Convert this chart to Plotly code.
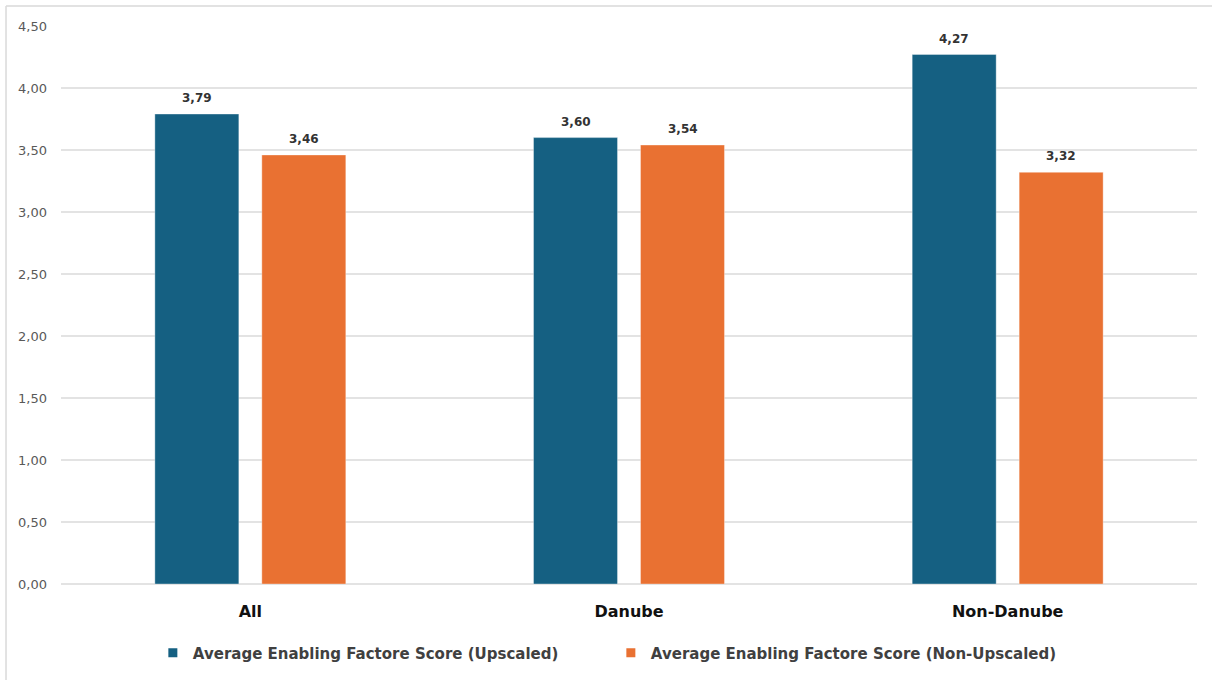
import plotly.graph_objects as go

categories = ["All", "Danube", "Non-Danube"]
upscaled = [3.79, 3.60, 4.27]
non_upscaled = [3.46, 3.54, 3.32]
series_names = [
    "Average Enabling Factore Score (Upscaled)",
    "Average Enabling Factore Score (Non-Upscaled)",
]
tick_values = [0, 0.5, 1.0, 1.5, 2.0, 2.5, 3.0, 3.5, 4.0, 4.5]

BLUE = "#156082"
ORANGE = "#E97132"

fig = go.Figure()
for name, vals, color in [
    (series_names[0], upscaled, BLUE),
    (series_names[1], non_upscaled, ORANGE),
]:
    fig.add_trace(go.Bar(
        x=categories, y=vals, name=name, showlegend=False, legendgroup=name,
        marker=dict(color=color, line=dict(color="rgba(255,255,255,0.35)", width=1)),
    ))

# small square legend keys
for name, color in [(series_names[0], BLUE), (series_names[1], ORANGE)]:
    fig.add_trace(go.Scatter(
        x=[None], y=[None], mode="markers", name=name, legendgroup=name,
        marker=dict(symbol="square", size=9, color=color),
    ))

# value labels above each bar
for shift, vals in [(-53.5, upscaled), (53.5, non_upscaled)]:
    for c, v in zip(categories, vals):
        fig.add_annotation(
            x=c, y=v, xref="x", yref="y", xshift=shift, yshift=7,
            yanchor="bottom", showarrow=False,
            text=f"{v:.2f}".replace(".", ","),
            font=dict(family="DejaVu Sans", size=12, color="#333333", weight="bold"),
        )

# thin frame lines at the top and left edges
fig.add_shape(type="line", xref="paper", yref="paper",
              x0=-0.0484, x1=1.02, y0=1.0358, y1=1.0358,
              line=dict(color="#d9d9d9", width=1.5))
fig.add_shape(type="line", xref="paper", yref="paper",
              x0=-0.0484, x1=-0.0484, y0=1.0358, y1=-0.3,
              line=dict(color="#d9d9d9", width=1.5))

fig.update_layout(
    width=1212, height=680,
    margin=dict(l=61, r=15, t=26, b=96, autoexpand=False),
    paper_bgcolor="white", plot_bgcolor="white",
    barmode="group", bargap=0.435, bargroupgap=0.215,
    separators=",.",
    showlegend=True,
    legend=dict(
        orientation="h", x=98 / 1212, xanchor="left",
        yref="container", y=(680 - 653) / 680, yanchor="middle",
        font=dict(family="DejaVu Sans", size=15, color="#404040", weight="bold"),
        itemwidth=30, traceorder="normal", entrywidth=413, entrywidthmode="pixels",
    ),
    font=dict(family="DejaVu Sans"),
)
fig.update_xaxes(
    showgrid=False, showline=False, ticks="", automargin=False,
    ticklabelstandoff=16,
    tickfont=dict(family="DejaVu Sans", size=16, color="#111111", weight="bold"),
    fixedrange=True,
)
fig.update_yaxes(
    range=[0, 4.5], tickvals=tick_values, tickformat=".2f", automargin=False,
    showgrid=True, gridcolor="#e3e3e3", gridwidth=1.5,
    zeroline=True, zerolinecolor="#e3e3e3", zerolinewidth=1.5,
    showline=False, ticks="", ticklabelstandoff=13,
    tickfont=dict(family="DejaVu Sans", size=13, color="#595959"),
    fixedrange=True,
)

fig.write_html("out.html")
